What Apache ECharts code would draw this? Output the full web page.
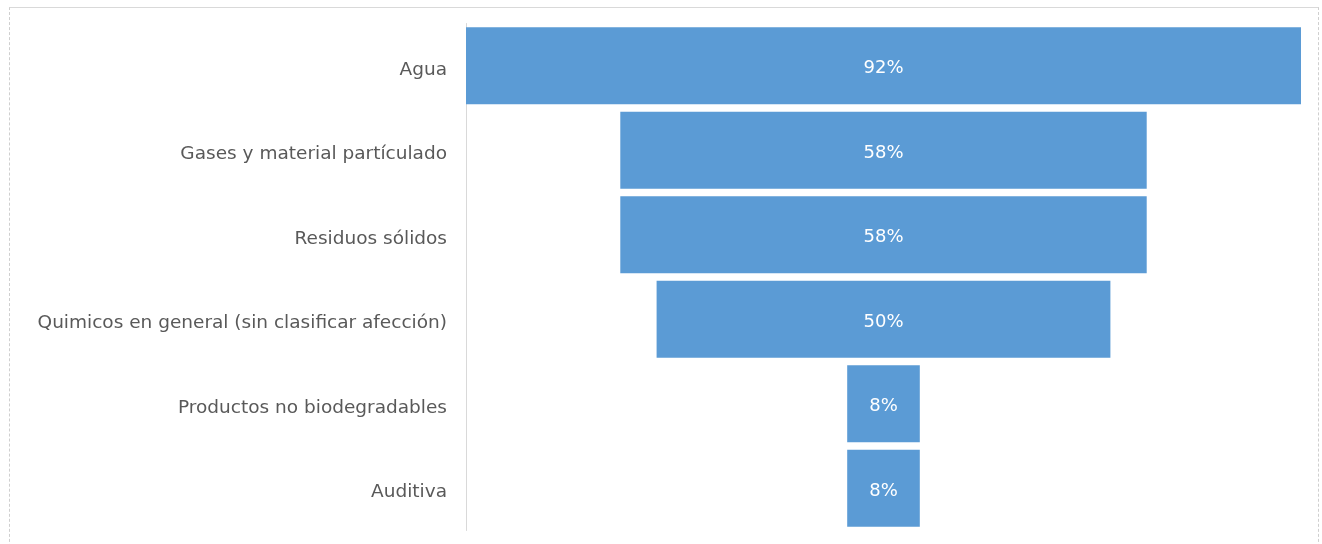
<!DOCTYPE html>
<html>
<head>
<meta charset="utf-8">
<script src="https://cdn.jsdelivr.net/npm/echarts@6/dist/echarts.min.js"></script>
<style>
html,body{margin:0;padding:0;background:#fff;}
#frame{position:absolute;left:9px;top:7px;width:1310px;height:560px;border-top:1px solid #d9d9d9;border-left:1px dashed #cfcfcf;border-right:1px dashed #cfcfcf;box-sizing:border-box;}
#chart{position:absolute;left:0;top:0;width:1322px;height:544px;}
</style>
</head>
<body>
<div id="frame"></div>
<div id="chart"></div>
<script>
const categories = ["Agua", "Gases y material partículado", "Residuos sólidos", "Quimicos en general (sin clasificar afección)", "Productos no biodegradables", "Auditiva"];
const values = [92, 58, 58, 50, 8, 8];
const maxValue = 92;

const offsets = values.map(v => (maxValue - v) / 2);

const chart = echarts.init(document.getElementById('chart'));
chart.setOption({
  animation: false,
  grid: {left: 466, right: 21, top: 23.5, bottom: 13.5, containLabel: false},
  xAxis: {type: 'value', min: 0, max: maxValue, show: false},
  yAxis: {
    type: 'category', data: categories, inverse: true,
    axisLine: {show: true, lineStyle: {color: '#d9d9d9', width: 1}},
    axisTick: {show: false},
    axisLabel: {
      margin: 19,
      formatter: v => '{a|' + v + '}',
      rich: {a: {color: '#595959', fontSize: 18.5, fontFamily: 'DejaVu Sans', padding: [8, 0, 0, 0]}}
    }
  },
  series: [
    {type: 'bar', stack: 'f', data: offsets, itemStyle: {color: 'transparent'}, barCategoryGap: '9%', silent: true},
    {type: 'bar', stack: 'f', data: values, barCategoryGap: '9%',
      itemStyle: {color: '#5b9bd5'},
      label: {show: true, position: 'inside', offset: [0, 3], color: '#ffffff', fontSize: 18, fontFamily: 'DejaVu Sans', formatter: p => p.value + '%'}}
  ]
});
</script>
</body>
</html>
